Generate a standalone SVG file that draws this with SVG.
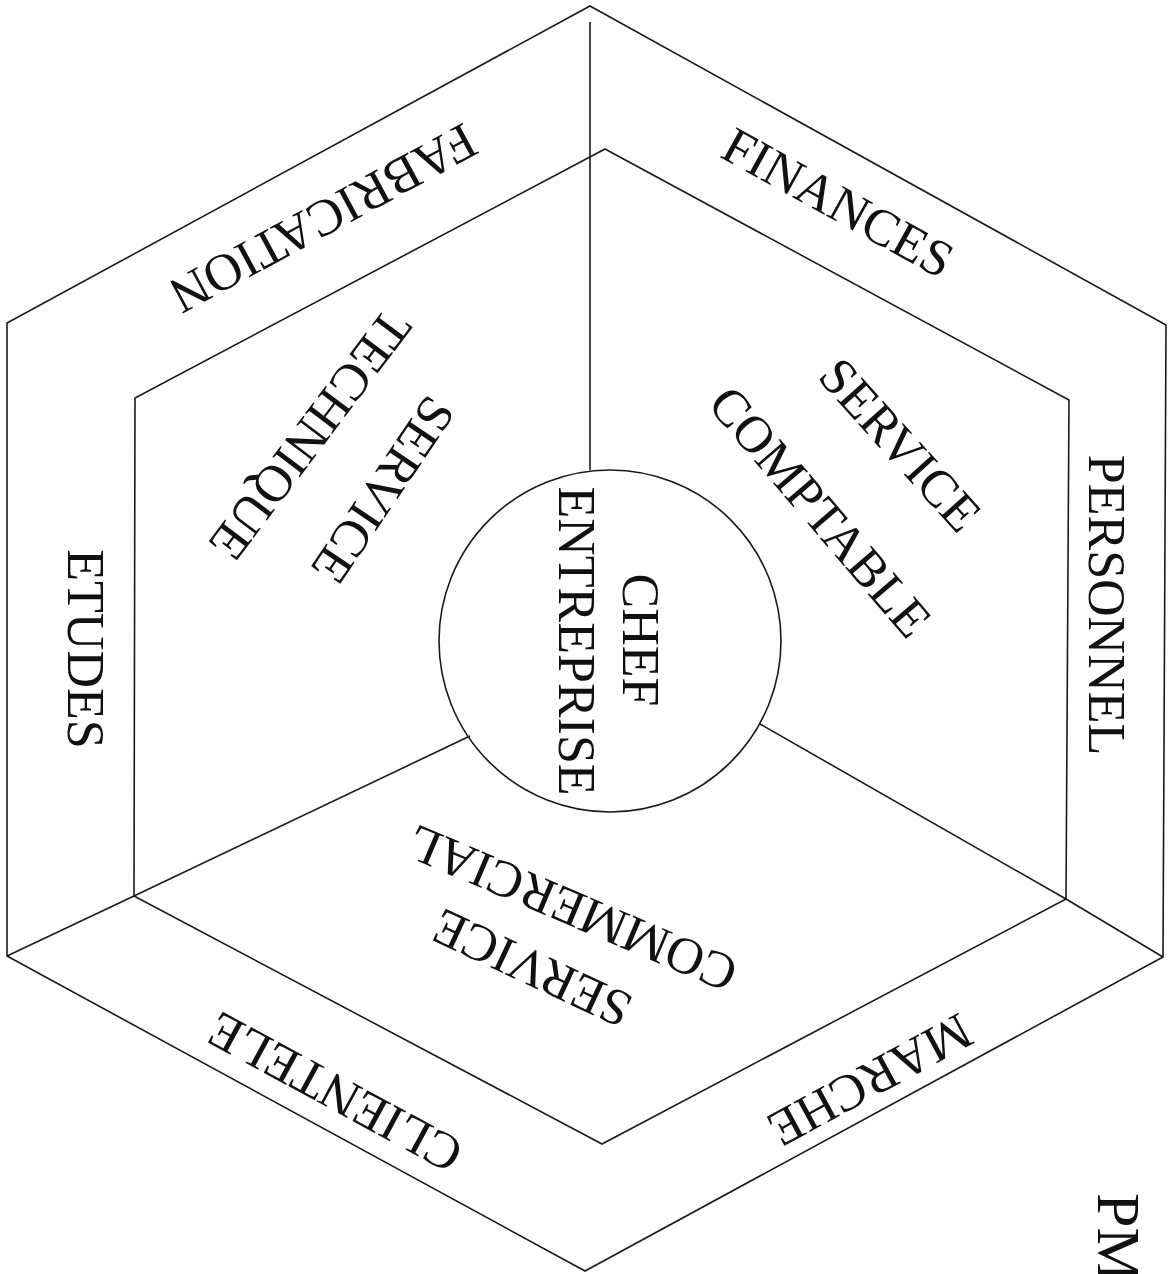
<svg xmlns="http://www.w3.org/2000/svg" width="1176" height="1274" viewBox="0 0 1176 1274">
<style>
.ln{fill:none;stroke:#1a1a1a;stroke-width:1.6;stroke-linejoin:miter}
.t{font-family:"Liberation Serif","Times New Roman",serif;font-size:52px;fill:#111;text-anchor:middle}
</style>
<rect width="1176" height="1274" fill="#fff"/>
<g id="frame">
<polygon id="outer-hexagon" class="ln" points="590,6 1166,325 1163,957 585,1271 7,956 7,323"/>
<polygon id="inner-hexagon" class="ln" points="605,149 1069,400 1066,899 602,1144 134,896 135,398"/>
</g>
<g id="connectors">
<line class="ln" x1="590" y1="22" x2="590" y2="470"/>
<polyline class="ln" points="470,736 134,896 7,956"/>
<polyline class="ln" points="760,724 1066,899 1163,957"/>
</g>
<g id="chef-entreprise">
<circle class="ln" cx="610" cy="641" r="171"/>
<text class="t" transform="translate(640,640) rotate(90)" y="17">CHEF</text>
<text class="t" transform="translate(576,641) rotate(90)" y="17">ENTREPRISE</text>
</g>
<g id="service-comptable">
<text class="t" transform="translate(900,445) rotate(48)" y="17">SERVICE</text>
<text class="t" transform="translate(820,512) rotate(49.5)" y="17">COMPTABLE</text>
</g>
<g id="service-technique">
<text class="t" transform="translate(383,490) rotate(124)" y="17">SERVICE</text>
<text class="t" transform="translate(310,435) rotate(127)" y="17">TECHNIQUE</text>
</g>
<g id="service-commercial">
<text class="t" transform="translate(532,968) rotate(205)" y="17">SERVICE</text>
<text class="t" transform="translate(572,908) rotate(203)" y="17">COMMERCIAL</text>
</g>
<g id="fabrication"><text class="t" transform="translate(323,218) rotate(151.5)" y="17">FABRICATION</text></g>
<g id="finances"><text class="t" transform="translate(838,203) rotate(29)" y="17">FINANCES</text></g>
<g id="personnel"><text class="t" transform="translate(1106,605) rotate(90)" y="17">PERSONNEL</text></g>
<g id="marche"><text class="t" transform="translate(870,1080) rotate(151.5)" y="17">MARCHE</text></g>
<g id="clientele"><text class="t" transform="translate(335,1092) rotate(208.5)" y="17">CLIENTELE</text></g>
<g id="etudes"><text class="t" transform="translate(85,649) rotate(90)" y="17">ETUDES</text></g>
<g id="pm"><text class="t" style="font-size:62px;text-anchor:start" transform="translate(1098,1193) rotate(90)">PM</text></g>
</svg>
